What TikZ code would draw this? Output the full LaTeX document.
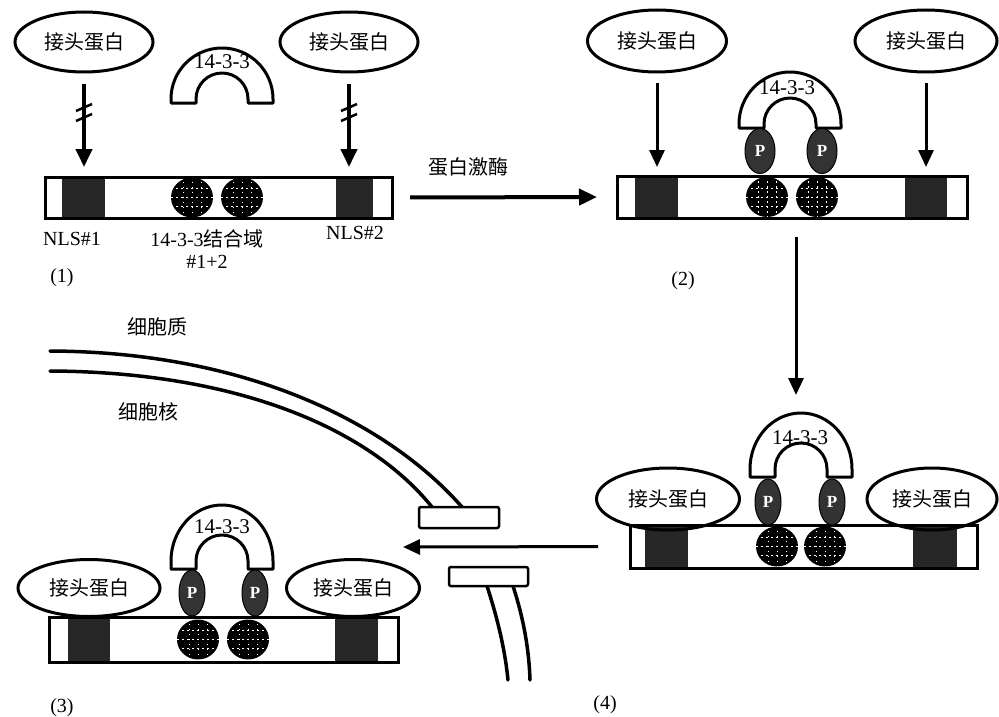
\documentclass[tikz,border=0pt]{standalone}
\usepackage{fontspec}
\setmainfont{Liberation Serif}
\newfontfamily\cjk{Noto Sans CJK SC}
\usetikzlibrary{arrows.meta,shapes.geometric}

% dark binding domain with white grid
\newcommand{\gridball}[2]{%
  \begin{scope}
    \clip (#1,#2) ellipse[x radius=21, y radius=20];
    \fill[black] (#1-22,#2-21) rectangle (#1+22,#2+21);
    \foreach \d in {-9,0,9}{
      \draw[white, line width=0.9pt, dash pattern=on 1.5pt off 3.5pt] (#1+\d,#2-21) -- (#1+\d,#2+21);
      \draw[white, line width=0.9pt, dash pattern=on 1.5pt off 3.5pt] (#1-21,#2+\d) -- (#1+21,#2+\d);
    }
  \end{scope}}

% 14-3-3 clamp: centre x, base y, leg length, outer y radius
\newcommand{\bindarc}[4]{%
  \draw[arcline] (#1-51,#2) -- (#1-51,#2-#3)
    arc[start angle=180, end angle=360, x radius=51, y radius=#4]
    -- (#1+51,#2) -- (#1+26,#2) -- (#1+26,#2-#3)
    arc[start angle=0, end angle=-180, radius=26]
    -- (#1-26,#2) -- cycle;}

\begin{document}
\begin{tikzpicture}[x=1pt,y=-1pt,
  adaptor/.style={draw, ellipse, line width=3pt, inner sep=0pt, font=\cjk\fontsize{20}{24}\selectfont},
  pball/.style={draw, ellipse, fill=black!80, line width=1pt, inner sep=0pt, text=white, font=\bfseries\fontsize{17}{18}\selectfont},
  protbar/.style={draw, line width=3pt, fill=white, inner sep=0pt, outer sep=0pt},
  lbl/.style={font=\fontsize{20}{24}\selectfont, inner sep=0pt},
  arclbl/.style={font=\fontsize{21}{24}\selectfont, inner sep=0pt},
  thickarrow/.style={line width=4pt, -{Triangle[length=18pt,width=16pt]}},
  thinarrow/.style={line width=3pt, -{Triangle[length=17pt,width=15pt]}},
  arcline/.style={fill=white, line width=3pt, line join=round},
  membrane/.style={line width=3.5pt, line cap=round}]
\fill[white] (0,0) rectangle (999,717);
\useasboundingbox (0,0) rectangle (999,717);

% (1)
\node[adaptor, minimum width=138pt, minimum height=60pt] (a11) at (84,42) {接头蛋白};
\node[adaptor, minimum width=138pt, minimum height=60pt] (a12) at (349,42) {接头蛋白};
\bindarc{222}{103}{4}{51}
\node[arclbl] (c1) at (222,62) {14-3-3};
\node[protbar, minimum width=347pt, minimum height=41pt] (bar1) at (218.5,197.5) {};
\fill[black!85] (62,177) rectangle (105,218);
\fill[black!85] (336,177) rectangle (373,218);
\gridball{192}{197.5}
\gridball{242}{197.5}
\draw[line width=3pt] (bar1.north west) rectangle (bar1.south east);
\draw[thickarrow, shorten <=11pt, shorten >=10pt] (a11) -- (a11 |- bar1.north);
\draw[thickarrow, shorten <=11pt, shorten >=10pt] (a12) -- (a12 |- bar1.north);
\foreach \x in {84,349}{
  \draw[line width=2.5pt] (\x-8,111) -- (\x+8,104);
  \draw[line width=2.5pt] (\x-8,121) -- (\x+8,114);
}
\node[lbl] (nls1) at (72,239) {NLS\#1};
\node[lbl, align=center] (bd1) at (207,249) {14-3-3{\cjk 结合域}\\[-2pt]\#1+2};
\node[lbl] (nls2) at (355,233) {NLS\#2};
\node[lbl] (n1) at (62,278) {(1)};

% (2)
\node[adaptor, minimum width=139pt, minimum height=62pt] (a21) at (657,41) {接头蛋白};
\node[adaptor, minimum width=142pt, minimum height=62pt] (a22) at (926,41) {接头蛋白};
\bindarc{790}{128}{4}{52}
\node[arclbl] (c2) at (787,88) {14-3-3};
\node[protbar, minimum width=350pt, minimum height=42pt] (bar2) at (792,197) {};
\fill[black!85] (635,176) rectangle (678,218);
\fill[black!85] (905,176) rectangle (947,218);
\gridball{767}{197}
\gridball{817}{197}
\draw[line width=3pt] (bar2.north west) rectangle (bar2.south east);
\node[pball, minimum width=30pt, minimum height=45pt] (p21) at (760,151) {P};
\node[pball, minimum width=30pt, minimum height=45pt] (p22) at (822,151) {P};
\draw[thinarrow, shorten <=10pt, shorten >=9pt] (a21) -- (a21 |- bar2.north);
\draw[thinarrow, shorten <=10pt, shorten >=9pt] (a22) -- (a22 |- bar2.north);
\node[lbl] (n2) at (683,281) {(2)};

% (1) -> (2)
\draw[thickarrow, shorten <=18pt, shorten >=20pt] (bar1.east) -- (bar2.west);
\node[lbl, font=\cjk\fontsize{20}{24}\selectfont] (kin) at (468,167) {蛋白激酶};

% (4)
\bindarc{801}{477}{8}{56}
\node[arclbl] (c4) at (800,438) {14-3-3};
\node[protbar, minimum width=347pt, minimum height=43pt] (bar4) at (803.5,546.5) {};
\fill[black!85] (645,525) rectangle (688,568);
\fill[black!85] (913,525) rectangle (957,568);
\gridball{777}{546.5}
\gridball{825}{546.5}
\draw[line width=3pt] (bar4.north west) rectangle (bar4.south east);
\node[adaptor, minimum width=143pt, minimum height=62pt] (a41) at (668,499) {接头蛋白};
\node[adaptor, minimum width=130pt, minimum height=62pt] (a42) at (932,499) {接头蛋白};
\node[pball, minimum width=26pt, minimum height=46pt] (p41) at (768,502) {P};
\node[pball, minimum width=26pt, minimum height=46pt] (p42) at (832,502) {P};
\node[lbl] (n4) at (605,705) {(4)};

% (2) -> (4)
\coordinate (arc4top) at (796,413);
\draw[thinarrow, shorten <=19pt, shorten >=18pt] (bar2.south -| arc4top) -- (arc4top);

% nuclear envelope
\draw[membrane] (50,351) .. controls (250,352) and (390,425) .. (462,507);
\draw[membrane] (50,371) .. controls (240,372) and (370,430) .. (432,507);
\draw[membrane] (487,586) .. controls (498,620) and (505,650) .. (508,680);
\draw[membrane] (513,586) .. controls (524,620) and (529,650) .. (530,680);
\draw[line width=2.5pt, rounded corners=2pt, fill=white] (419,507) rectangle (499,528);
\draw[line width=2.5pt, rounded corners=2pt, fill=white] (449,567) rectangle (528,586);
\node[lbl, font=\cjk\fontsize{20}{24}\selectfont] (cyto) at (157,327) {细胞质};
\node[lbl, font=\cjk\fontsize{20}{24}\selectfont] (nuc) at (148,412) {细胞核};

% (4) -> (3)
\coordinate (pore) at (403,547);
\draw[thinarrow, shorten <=32pt] (bar4.west) -- (pore);

% (3)
\bindarc{222}{569}{8}{56}
\node[arclbl] (c3) at (222,527) {14-3-3};
\node[protbar, minimum width=349pt, minimum height=45pt] (bar3) at (223.5,639.5) {};
\fill[black!85] (68,617) rectangle (110,662);
\fill[black!85] (335,617) rectangle (378,662);
\gridball{198}{639.5}
\gridball{248}{639.5}
\draw[line width=3pt] (bar3.north west) rectangle (bar3.south east);
\node[adaptor, minimum width=142pt, minimum height=57pt] (a31) at (89,588) {接头蛋白};
\node[adaptor, minimum width=133pt, minimum height=57pt] (a32) at (353,588) {接头蛋白};
\node[pball, minimum width=26pt, minimum height=46pt] (p31) at (192,593) {P};
\node[pball, minimum width=26pt, minimum height=46pt] (p32) at (255,593) {P};
\node[lbl] (n3) at (62,708) {(3)};
\end{tikzpicture}
\end{document}
